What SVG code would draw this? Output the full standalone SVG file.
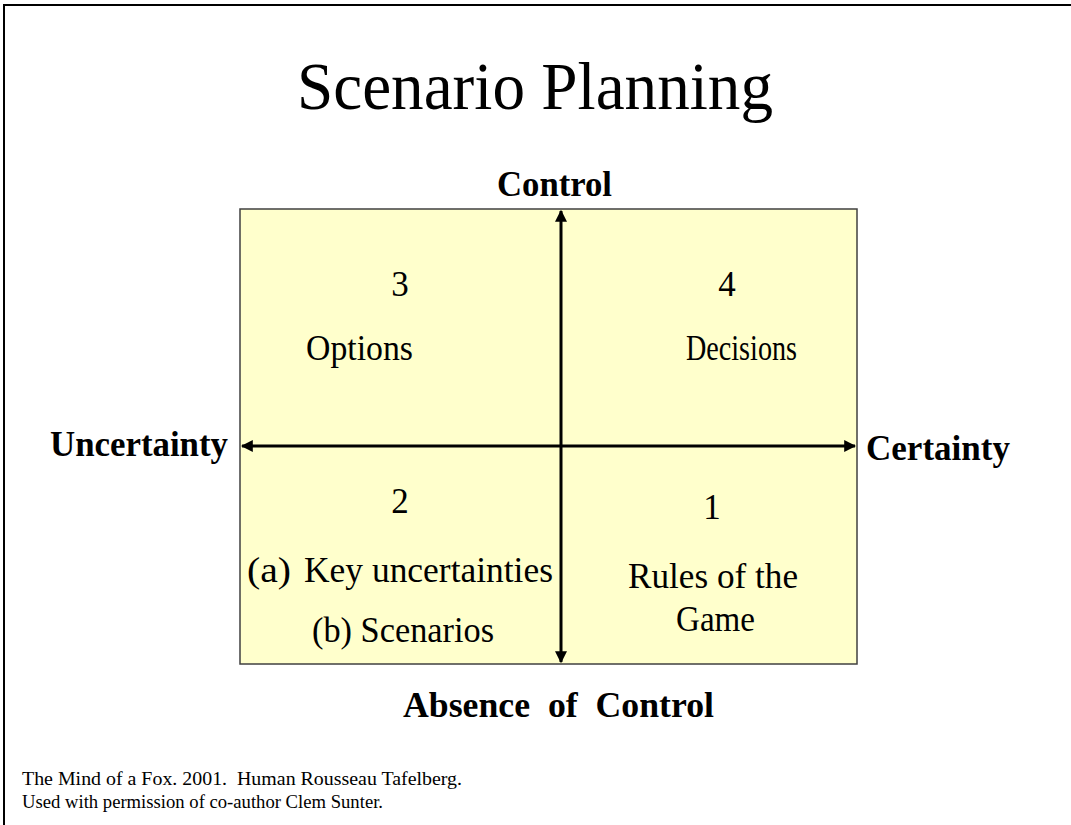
<svg xmlns="http://www.w3.org/2000/svg" width="1071" height="825" viewBox="0 0 1071 825">
  <style>
    .serif { font-family: "Liberation Serif", "Times New Roman", serif; fill: #000; }
    .title { font-size: 67px; }
    .axis-label { font-size: 35px; font-weight: bold; }
    .cell { font-size: 35px; }
    .note { font-size: 19px; }
    .axis { stroke: #000; stroke-width: 3; fill: none; }
  </style>
  <defs>
    <marker id="arrow" viewBox="0 0 10 10" refX="9" refY="5" markerWidth="4" markerHeight="4" orient="auto-start-reverse" markerUnits="strokeWidth">
      <path d="M0,0 L10,5 L0,10 Z" fill="#000"/>
    </marker>
  </defs>

  <!-- page frame -->
  <path d="M4,825 L4,5 L1071,5" fill="none" stroke="#000" stroke-width="2"/>

  <text class="serif title" x="297" y="109" textLength="476" lengthAdjust="spacingAndGlyphs">Scenario Planning</text>

  <!-- quadrant field -->
  <g id="field">
    <rect x="240" y="209" width="617" height="455" fill="#FFFFCC" stroke="#404040" stroke-width="1.5"/>
  </g>

  <g id="connectors">
    <line class="axis" x1="561" y1="662" x2="561" y2="211" marker-start="url(#arrow)" marker-end="url(#arrow)"/>
    <line class="axis" x1="242" y1="446" x2="855" y2="446" marker-start="url(#arrow)" marker-end="url(#arrow)"/>
  </g>

  <g id="label-control"><text class="serif axis-label" x="497" y="196" textLength="115" lengthAdjust="spacingAndGlyphs">Control</text></g>
  <g id="label-absence"><text class="serif axis-label" x="403" y="717" textLength="311" lengthAdjust="spacingAndGlyphs" xml:space="preserve">Absence  of  Control</text></g>
  <g id="label-uncertainty"><text class="serif axis-label" x="50" y="456" textLength="178" lengthAdjust="spacingAndGlyphs">Uncertainty</text></g>
  <g id="label-certainty"><text class="serif axis-label" x="866" y="460" textLength="144" lengthAdjust="spacingAndGlyphs">Certainty</text></g>

  <g id="quadrant-3">
    <text class="serif cell" x="400" y="296" text-anchor="middle">3</text>
    <text class="serif cell" x="306" y="360" textLength="107" lengthAdjust="spacingAndGlyphs">Options</text>
  </g>
  <g id="quadrant-4">
    <text class="serif cell" x="727" y="296" text-anchor="middle">4</text>
    <text class="serif cell" x="686" y="360" textLength="111" lengthAdjust="spacingAndGlyphs">Decisions</text>
  </g>
  <g id="quadrant-2">
    <text class="serif cell" x="400" y="513" text-anchor="middle">2</text>
    <text class="serif cell" x="247" y="582" textLength="44" lengthAdjust="spacingAndGlyphs">(a)</text>
    <text class="serif cell" x="304" y="582" textLength="249" lengthAdjust="spacingAndGlyphs">Key uncertainties</text>
    <text class="serif cell" x="312" y="642" textLength="182" lengthAdjust="spacingAndGlyphs">(b) Scenarios</text>
  </g>
  <g id="quadrant-1">
    <text class="serif cell" x="712" y="519" text-anchor="middle">1</text>
    <text class="serif cell" x="628" y="588" textLength="170" lengthAdjust="spacingAndGlyphs">Rules of the</text>
    <text class="serif cell" x="676" y="631" textLength="79" lengthAdjust="spacingAndGlyphs">Game</text>
  </g>

  <text class="serif note" x="22" y="785" textLength="440" lengthAdjust="spacingAndGlyphs" xml:space="preserve">The Mind of a Fox. 2001.  Human Rousseau Tafelberg.</text>
  <text class="serif note" x="22" y="808" textLength="361" lengthAdjust="spacingAndGlyphs">Used with permission of co-author Clem Sunter.</text>
</svg>
